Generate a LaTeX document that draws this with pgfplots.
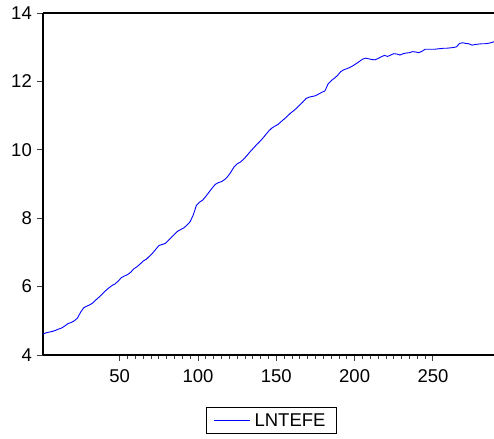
\documentclass[border=0pt]{standalone}
\usepackage{fontspec}
\setmainfont{Liberation Sans}
\usepackage{pgfplots}
\pgfplotsset{compat=1.18}
\begin{document}
\begin{tikzpicture}
\begin{axis}[
  name=ax,
  at={(0pt,0pt)}, anchor=south west,
  scale only axis,
  width=451pt, height=342pt,
  xmin=1, xmax=289, ymin=4, ymax=14,
  axis lines=left,
  axis line style={-, line width=1.5pt, black},
  tick align=outside,
  xtick={50,100,150,200,250},
  minor x tick num=9,
  ytick={4,6,8,10,12,14},
  major tick length=6pt,
  minor tick length=4pt,
  tick style={line width=0.9pt, black!75},
  font=\fontsize{18.5}{21}\selectfont,
  /pgf/number format/assume math mode=true,
  xticklabel style={inner sep=0pt, yshift=-8pt},
  yticklabel style={inner sep=0pt, xshift=-5pt},
  legend style={at={(rel axis cs:0.5067,-0.1915)}, anchor=center, draw=black, line width=0.8pt,
    inner xsep=7pt, inner ysep=4pt, font=\fontsize{18.5}{21}\selectfont,
    nodes={inner xsep=4pt}},
  legend image code/.code={\draw[#1, line width=1pt] (0pt,0pt) -- (36pt,0pt);},
  clip=false,
]
\addplot[blue, line width=0.9pt] coordinates {
(1,4.61)(3,4.65)(5,4.67)(7,4.69)(9,4.72)(11,4.76)(13,4.79)(15,4.85)(17,4.92)(19,4.95)
(21,5.00)(23,5.08)(25,5.25)(27,5.38)(29,5.43)(31,5.47)(33,5.53)(35,5.62)(37,5.70)(39,5.79)
(41,5.88)(43,5.96)(45,6.03)(47,6.08)(49,6.16)(51,6.26)(53,6.31)(55,6.35)(57,6.42)(59,6.52)
(61,6.58)(63,6.66)(65,6.75)(67,6.80)(69,6.89)(71,6.98)(73,7.09)(75,7.20)(77,7.23)(79,7.26)
(81,7.35)(83,7.44)(85,7.53)(87,7.62)(89,7.67)(91,7.72)(93,7.80)(95,7.90)(97,8.10)(99,8.38)
(101,8.47)(103,8.53)(105,8.64)(107,8.76)(109,8.88)(111,8.99)(113,9.04)(115,9.07)(117,9.13)(119,9.22)
(121,9.35)(123,9.50)(125,9.59)(127,9.64)(129,9.72)(131,9.82)(133,9.93)(135,10.03)(137,10.13)(139,10.22)
(141,10.32)(143,10.43)(145,10.54)(147,10.63)(149,10.69)(151,10.74)(153,10.82)(155,10.90)(157,10.98)(159,11.07)
(161,11.14)(163,11.22)(165,11.31)(167,11.40)(169,11.50)(171,11.54)(173,11.56)(175,11.58)(177,11.63)(179,11.68)
(181,11.72)(183,11.92)(185,12.02)(187,12.09)(189,12.17)(191,12.28)(193,12.34)(195,12.37)(197,12.41)(199,12.46)
(201,12.52)(203,12.58)(205,12.65)(207,12.68)(209,12.66)(211,12.64)(213,12.63)(215,12.67)(217,12.72)(219,12.76)
(221,12.73)(223,12.77)(225,12.81)(227,12.80)(229,12.77)(231,12.81)(233,12.83)(235,12.84)(237,12.87)(239,12.86)
(241,12.84)(243,12.88)(245,12.94)(247,12.94)(249,12.94)(251,12.94)(253,12.95)(255,12.96)(257,12.97)(259,12.97)
(261,12.98)(263,12.99)(265,13.01)(267,13.11)(269,13.13)(271,13.11)(273,13.10)(275,13.06)(277,13.08)(279,13.09)
(281,13.10)(283,13.10)(285,13.11)(287,13.13)(289,13.16)
};
\addlegendentry{LNTEFE}
\draw[line width=1.5pt, black] (rel axis cs:0,1) -- (rel axis cs:1,1);
\end{axis}
\pgfresetboundingbox
\path (-43pt,-83pt) rectangle (451pt,355pt);
\end{tikzpicture}
\end{document}
